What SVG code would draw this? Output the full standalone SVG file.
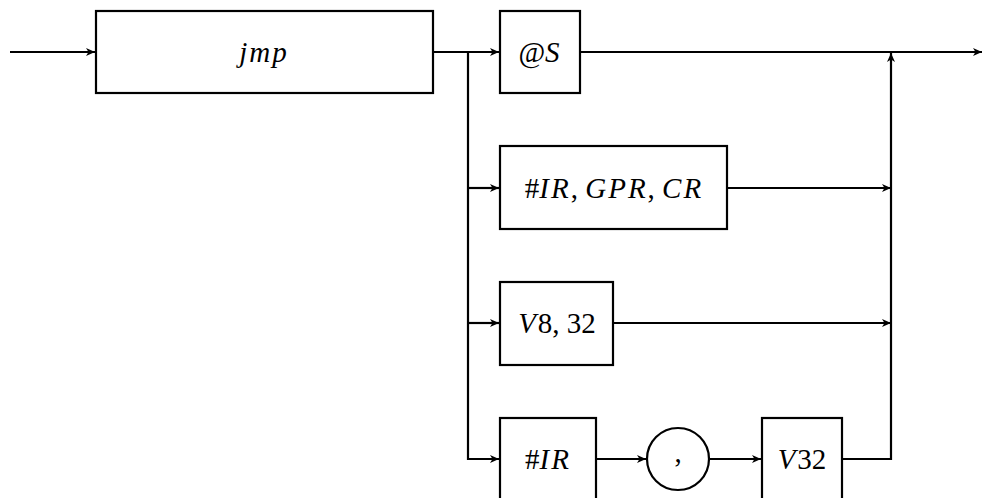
<svg xmlns="http://www.w3.org/2000/svg" width="982" height="498" viewBox="0 0 982 498">
  <defs>
    <marker id="arr" markerWidth="10" markerHeight="8" refX="9" refY="4" orient="auto" markerUnits="userSpaceOnUse">
      <path d="M0,0 L9,4 L0,8 L2.5,4 Z" fill="#000"/>
    </marker>
  </defs>
  <style>
    .box { fill: #fff; stroke: #000; stroke-width: 2.2; }
    .ln { fill: none; stroke: #000; stroke-width: 2.2; }
    .t { font-family: "Liberation Serif", "DejaVu Serif", serif; font-size: 29px; text-anchor: middle; dominant-baseline: central; }
    .i { font-style: italic; letter-spacing: 2px; }
  </style>

  <g id="connectors">
    <line class="ln" x1="10" y1="52" x2="95" y2="52" marker-end="url(#arr)"/>
    <line class="ln" x1="433" y1="52" x2="499" y2="52" marker-end="url(#arr)"/>
    <path class="ln" d="M468,52 V459 H499" marker-end="url(#arr)"/>
    <line class="ln" x1="468" y1="188" x2="499" y2="188" marker-end="url(#arr)"/>
    <line class="ln" x1="468" y1="323" x2="499" y2="323" marker-end="url(#arr)"/>
    <line class="ln" x1="580" y1="52" x2="982" y2="52" marker-end="url(#arr)"/>
    <line class="ln" x1="727" y1="188" x2="891" y2="188" marker-end="url(#arr)"/>
    <line class="ln" x1="613" y1="323" x2="891" y2="323" marker-end="url(#arr)"/>
    <line class="ln" x1="596" y1="459" x2="646" y2="459" marker-end="url(#arr)"/>
    <line class="ln" x1="709" y1="459" x2="761" y2="459" marker-end="url(#arr)"/>
    <path class="ln" d="M842,459 H891 V53" marker-end="url(#arr)"/>
  </g>

  <g id="node-jmp">
    <rect class="box" x="96" y="11" width="337" height="82"/>
    <text class="t i" x="264" y="52">jmp</text>
  </g>
  <g id="node-atS">
    <rect class="box" x="500" y="11" width="80" height="82"/>
    <text class="t" x="540" y="52">@<tspan class="i">S</tspan></text>
  </g>
  <g id="node-regs">
    <rect class="box" x="500" y="146" width="227" height="83"/>
    <text class="t" x="614" y="188">#<tspan class="i">IR</tspan>, <tspan class="i">GPR</tspan>, <tspan class="i">CR</tspan></text>
  </g>
  <g id="node-v832">
    <rect class="box" x="500" y="282" width="113" height="83"/>
    <text class="t" x="557" y="323"><tspan class="i">V</tspan>8, 32</text>
  </g>
  <g id="node-ir">
    <rect class="box" x="500" y="418" width="96" height="82"/>
    <text class="t" x="548" y="459">#<tspan class="i">IR</tspan></text>
  </g>
  <g id="node-comma">
    <circle class="box" cx="678" cy="459" r="31"/>
    <text class="t" x="678" y="452">,</text>
  </g>
  <g id="node-v32">
    <rect class="box" x="762" y="418" width="80" height="82"/>
    <text class="t" x="802" y="459"><tspan class="i">V</tspan>32</text>
  </g>
</svg>
